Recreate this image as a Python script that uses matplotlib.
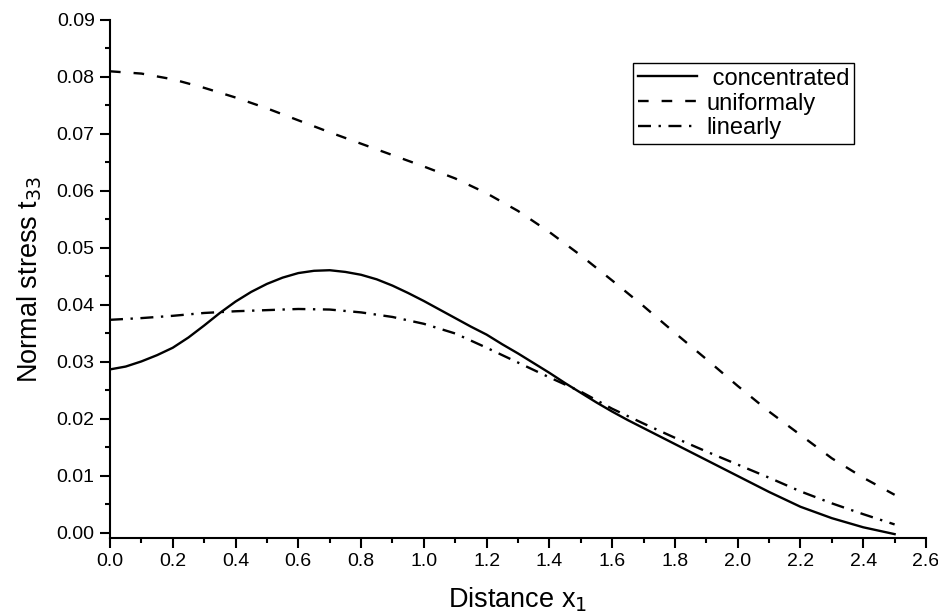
import matplotlib.pyplot as plt
import numpy as np
from matplotlib.ticker import MultipleLocator

plt.rcParams['font.family'] = ['Liberation Sans', 'DejaVu Sans']

# concentrated load curve read at 0.05 steps, the others at 0.1 steps
x_fine = np.round(np.arange(0, 2.501, 0.05), 2)
x = np.round(np.arange(0, 2.51, 0.1), 2)

concentrated = [0.0287, 0.0292, 0.0301, 0.0312, 0.0325, 0.0343, 0.0364, 0.0386,
                0.0406, 0.0423, 0.0437, 0.0448, 0.0456, 0.0460, 0.0461, 0.0458,
                0.0453, 0.0445, 0.0434, 0.0421, 0.0407, 0.0392, 0.0377, 0.0362,
                0.0348, 0.0331, 0.0315, 0.0298, 0.0281, 0.0263, 0.0246, 0.0229,
                0.0213, 0.0198, 0.0184, 0.0170, 0.0156, 0.0142, 0.0128, 0.0114,
                0.0100, 0.0086, 0.0072, 0.0059, 0.0046, 0.0036, 0.0026, 0.0018,
                0.0010, 0.0004, -0.0002]

uniformaly = [0.0810, 0.0806, 0.0796, 0.0781, 0.0764, 0.0745, 0.0724, 0.0703,
              0.0683, 0.0663, 0.0643, 0.0622, 0.0596, 0.0565, 0.0528, 0.0487,
              0.0443, 0.0398, 0.0351, 0.0305, 0.0258, 0.0213, 0.0172, 0.0131,
              0.0097, 0.0067]

linearly = [0.0374, 0.0377, 0.0381, 0.0386, 0.0389, 0.0391, 0.0393, 0.0392,
            0.0387, 0.0379, 0.0367, 0.0350, 0.0325, 0.0299, 0.0273, 0.0248,
            0.0218, 0.0192, 0.0167, 0.0143, 0.0120, 0.0097, 0.0073, 0.0052,
            0.0033, 0.0015]

labels = [' concentrated', 'uniformaly', 'linearly']

fig = plt.figure(figsize=(9.38, 6.16), dpi=100)
ax = fig.add_axes([110 / 938, 1 - 538 / 616, 816 / 938, 518 / 616])

ax.plot(x_fine, concentrated, color='black', lw=1.7, label=labels[0])
ax.plot(x, uniformaly, color='black', lw=1.7, linestyle=(0, (4.5, 5.5)), label=labels[1])
ax.plot(x, linearly, color='black', lw=1.7, linestyle=(0, (5.5, 3.2, 1, 3.2)), label=labels[2])

ax.set_xlim(0, 2.6)
ax.set_ylim(-0.00088, 0.09)
ax.xaxis.set_major_locator(MultipleLocator(0.2))
ax.xaxis.set_minor_locator(MultipleLocator(0.1))
ax.yaxis.set_major_locator(MultipleLocator(0.01))
ax.yaxis.set_minor_locator(MultipleLocator(0.005))
ax.xaxis.set_major_formatter(lambda v, p: f'{v:.1f}')
ax.yaxis.set_major_formatter(lambda v, p: f'{v:.2f}')

for s in ['top', 'right']:
    ax.spines[s].set_visible(False)
for s in ['left', 'bottom']:
    ax.spines[s].set_linewidth(1.5)

ax.tick_params(which='major', direction='out', length=7, width=1.5, labelsize=14, pad=4)
ax.tick_params(which='minor', direction='out', length=3.6, width=1.5)

ax.set_xlabel('Distance x$_1$', fontsize=19.5, labelpad=11)
ax.set_ylabel('Normal stress t$_{33}$', fontsize=19.5, labelpad=9)

leg = ax.legend(loc='upper left', bbox_to_anchor=(633 / 938, 1 - 63 / 616),
                bbox_transform=fig.transFigure, fontsize=17, frameon=True,
                fancybox=False, edgecolor='black', framealpha=1,
                borderpad=0.2, labelspacing=0.12, handlelength=2.5,
                handletextpad=0.4, borderaxespad=0)
leg.get_frame().set_linewidth(1.0)

fig.savefig('out.png', dpi=100)
